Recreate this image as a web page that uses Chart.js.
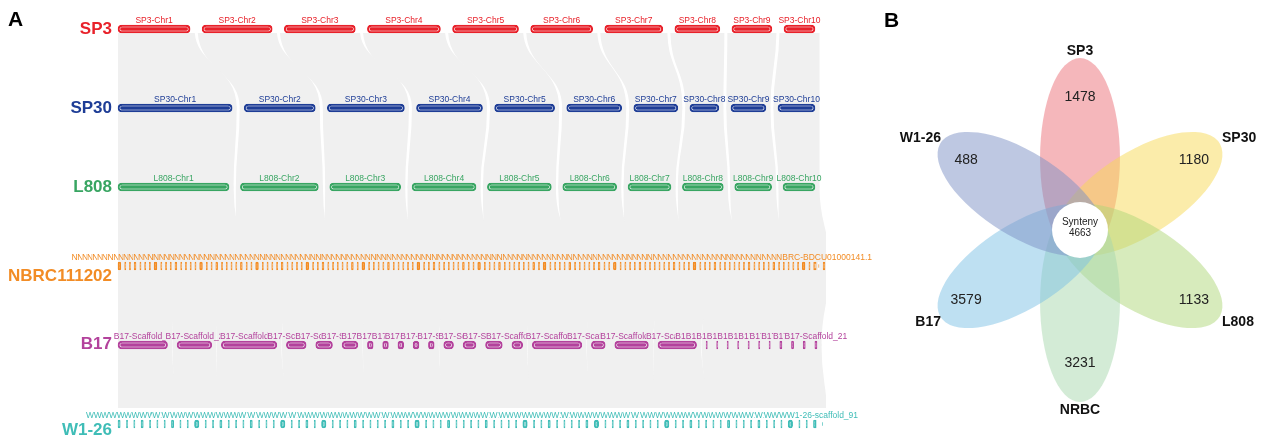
<!DOCTYPE html>
<html><head><meta charset="utf-8">
<script src="https://cdn.jsdelivr.net/npm/chart.js@4.4.1/dist/chart.umd.min.js"></script>
<style>
html,body{margin:0;padding:0;background:#fff;width:1263px;height:441px;overflow:hidden}
#a{position:absolute;left:0;top:0}
#b{position:absolute;left:880px;top:0}
</style></head><body>
<canvas id="a" width="890" height="441"></canvas>
<canvas id="b" width="383" height="441"></canvas>
<script>
// ---------------- DATA (panel A) ----------------
const genomes = ['SP3','SP30','L808','NBRC111202','B17','W1-26'];
// chromosome / scaffold lengths (Mb)
const sp3Len  = [7.2,7.0,7.1,7.3,6.6,6.2,5.8,4.5,4.0,3.1];
const sp30Len = [11.4,7.1,7.7,6.6,6.0,5.5,4.4,2.9,3.5,3.7];
const l808Len = [11.1,7.8,7.1,6.4,6.4,5.4,4.3,4.1,3.7,3.2];
const nbrcLen = [
 0.3,0.1,0.1,0.2,0.1,0.1,0.1,0.3,0.1,0.1,0.1,0.2,0.1,0.1,0.1,0.1,0.3,0.1,0.1,0.2,
 0.1,0.1,0.1,0.1,0.2,0.1,0.1,0.3,0.1,0.1,0.1,0.1,0.2,0.1,0.1,0.1,0.1,0.3,0.1,0.1,
 0.2,0.1,0.1,0.1,0.1,0.1,0.2,0.1,0.3,0.1,0.1,0.1,0.1,0.2,0.1,0.1,0.1,0.1,0.1,0.3,
 0.1,0.1,0.2,0.1,0.1,0.1,0.1,0.1,0.2,0.1,0.1,0.3,0.1,0.1,0.1,0.2,0.1,0.1,0.1,0.1,
 0.1,0.1,0.2,0.1,0.3,0.1,0.1,0.1,0.1,0.2,0.1,0.1,0.1,0.1,0.1,0.2,0.1,0.1,0.3,0.1,
 0.1,0.1,0.1,0.2,0.1,0.1,0.1,0.1,0.1,0.1,0.2,0.1,0.1,0.1,0.3,0.1,0.1,0.1,0.2,0.1,
 0.1,0.1,0.1,0.1,0.1,0.2,0.1,0.1,0.1,0.1,0.2,0.1,0.1,0.1,0.1,0.1,0.3,0.1,0.1,0.1,0.2];
const b17Len  = [5.0,3.5,5.6,2.0,1.7,1.6,0.58,0.58,0.58,0.58,0.58,1.0,1.3,1.7,1.1,5.0,1.4,3.4,3.9,
 0.1,0.1,0.1,0.1,0.1,0.1,0.12,0.22,0.22,0.22,0.22];
const b17Ids  = [1,2,3,4,5,6,7,8,9,10,11,12,13,14,15,16,17,18,19,20,22,23,24,25,26,27,28,29,30,21];
const w126Len = [
 0.2,0.1,0.1,0.2,0.1,0.1,0.1,0.2,0.1,0.1,0.4,0.1,0.1,0.2,0.1,0.1,0.1,0.2,0.1,0.1,
 0.1,0.4,0.1,0.1,0.2,0.1,0.4,0.1,0.1,0.1,0.2,0.1,0.1,0.1,0.1,0.2,0.1,0.1,0.4,0.1,
 0.1,0.1,0.2,0.1,0.1,0.1,0.1,0.2,0.1,0.1,0.1,0.1,0.4,0.1,0.1,0.2,0.1,0.1,0.1,0.1,
 0.2,0.4,0.1,0.1,0.1,0.2,0.1,0.1,0.1,0.1,0.4,0.1,0.1,0.2,0.1,0.1,0.1,0.1,0.2,0.1,
 0.1,0.1,0.2,0.1,0.1,0.1,0.4,0.1,0.1,0.2,0.1];
// syntenic blocks between neighbouring genomes: [upperFrom, upperTo, lowerFrom, lowerTo]
const linksSP3_SP30 = [[1,1,1,1],[2,2,2,2],[3,3,3,3],[4,4,4,4],[5,5,5,5],[6,6,6,6],[7,7,7,7],[8,8,8,8],[9,9,9,9],[10,10,10,10]];
const linksSP30_L808 = [[1,1,1,1],[2,2,2,2],[3,3,3,3],[4,4,4,4],[5,5,5,5],[6,6,6,6],[7,7,7,7],[8,8,8,8],[9,9,9,9],[10,10,10,10]];
const linksL808_NBRC = [[1,1,1,24],[2,2,25,41],[3,3,42,58],[4,4,59,73],[5,5,74,89],[6,6,90,101],[7,7,102,112],[8,8,113,123],[9,9,124,132],[10,10,133,141]];
const linksNBRC_B17 = [[1,11,1,1],[12,20,2,2],[21,34,3,3],[35,49,4,6],[50,65,7,11],[66,82,12,15],[83,94,16,16],[95,108,17,18],[109,118,19,19],[119,141,20,30]];
const linksB17_W126 = [[1,1,1,8],[2,2,9,13],[3,3,14,22],[4,6,23,32],[7,11,33,42],[12,15,43,53],[16,16,54,61],[17,18,62,69],[19,19,70,76],[20,30,77,91]];

// ---------------- DATA (panel B) ----------------
const petalNames  = ['SP3','SP30','L808','NRBC','B17','W1-26'];
const petalCounts = [1478,1180,1133,3231,3579,488];
const coreName = 'Synteny';
const coreCount = 4663;

// ---------------- STYLE / LAYOUT ----------------
const FONT = '"Liberation Sans", Arial, Helvetica, sans-serif';
const rows = [
  {len:sp3Len,  names:sp3Len.map((_,i)=>'SP3-Chr'+(i+1)),  color:'#e8212a', gapPx:12,  spanPx:697, labelDy:0},
  {len:sp30Len, names:sp30Len.map((_,i)=>'SP30-Chr'+(i+1)),color:'#1e3d96', gapPx:12,  spanPx:697, labelDy:0},
  {len:l808Len, names:l808Len.map((_,i)=>'L808-Chr'+(i+1)),color:'#38a562', gapPx:11.3,spanPx:697, labelDy:0},
  {len:nbrcLen, names:nbrcLen.map((_,i)=>'NBRC-BDCU01000'+String(i+1).padStart(3,'0')+'.1'), color:'#f28c25', gapPx:3.8, spanPx:707, labelDy:10},
  {len:b17Len,  names:b17Ids.map(n=>'B17-Scaffold_'+n),   color:'#b3429c', gapPx:9.5, spanPx:699, labelDy:-1},
  {len:w126Len, names:w126Len.map((_,i)=>'W1-26-scaffold_'+(i+1)), color:'#3fbdb7', gapPx:6.2, spanPx:705, labelDy:6}
];
const BASE_SPAN = 697;
rows.forEach(r => {
  const n = r.len.length;
  const total = r.len.reduce((a,b)=>a+b,0);
  const gap = r.gapPx / BASE_SPAN;
  const span = r.spanPx / BASE_SPAN;
  const unit = (span - gap*(n-1)) / total;
  let pos = 0;
  r.seg = r.len.map(L => { const s = pos, e = pos + L*unit; pos = e + gap; return [s,e]; });
});
const linkSets = [linksSP3_SP30, linksSP30_L808, linksL808_NBRC, linksNBRC_B17, linksB17_W126];

const maxN = Math.max(...rows.map(r=>r.len.length));
const datasets = [];
for (let k=0;k<maxN;k++){
  datasets.push({label:'core'+k, data: rows.map(r=>r.seg[k] ? r.seg[k].slice() : null),
    backgroundColor: rows.map(r=>r.color), borderColor:'#ffffff', borderWidth:2.6, borderRadius:4,
    borderSkipped:false, barThickness:8, grouped:false, order:2, clip:false});
  datasets.push({label:'outline'+k, data: rows.map(r=>r.seg[k] ? r.seg[k].slice() : null),
    backgroundColor:'rgba(0,0,0,0)', borderColor: rows.map(r=>r.color), borderWidth:1.3, borderRadius:4,
    borderSkipped:false, barThickness:8, grouped:false, order:1, clip:false, minBarLength:1.2});
}

const synPlugin = {
  id:'syn',
  beforeDatasetsDraw(chart){
    const {ctx, scales:{x,y}} = chart;
    const left = x.getPixelForValue(0);
    const right = x.getPixelForValue(rows[3].spanPx/BASE_SPAN) + 1;
    const top = y.getPixelForValue(0) + 4, bottom = y.getPixelForValue(5) - 16;
    ctx.save();
    ctx.beginPath(); ctx.rect(left, top, right-left, bottom-top); ctx.clip();
    ctx.fillStyle = '#f0f0f0'; ctx.strokeStyle = '#f0f0f0';
    ctx.lineWidth = 9; ctx.lineJoin = 'round';
    linkSets.forEach((links,p)=>{
      const up = rows[p], lo = rows[p+1];
      const ya = y.getPixelForValue(p), yb = y.getPixelForValue(p+1);
      const ym = (ya+yb)/2;
      links.forEach(([u0,u1,l0,l1])=>{
        const a0 = x.getPixelForValue(up.seg[u0-1][0]), a1 = x.getPixelForValue(up.seg[u1-1][1]);
        const b0 = x.getPixelForValue(lo.seg[l0-1][0]), b1 = x.getPixelForValue(lo.seg[l1-1][1]);
        ctx.beginPath();
        ctx.moveTo(a0,ya); ctx.lineTo(a1,ya);
        ctx.bezierCurveTo(a1,ym,b1,ym,b1,yb);
        ctx.lineTo(b0,yb);
        ctx.bezierCurveTo(b0,ym,a0,ym,a0,ya);
        ctx.closePath(); ctx.fill(); ctx.stroke();
      });
    });
    ctx.restore();
  },
  afterDatasetsDraw(chart){
    const {ctx, scales:{x,y}} = chart;
    ctx.save();
    // chromosome labels
    ctx.font = '8.5px ' + FONT;
    ctx.textAlign = 'center'; ctx.textBaseline = 'alphabetic';
    rows.forEach((r,ri)=>{
      ctx.fillStyle = r.color;
      const yp = y.getPixelForValue(ri) - 6;
      const centers = r.seg.map(s => (x.getPixelForValue(s[0]) + x.getPixelForValue(s[1]))/2);
      const widths = r.names.map(n => ctx.measureText(n).width);
      r.names.forEach((n,i)=>{
        ctx.save();
        if (i < r.names.length-1){
          const rgt = centers[i+1] - widths[i+1]/2;
          ctx.beginPath(); ctx.rect(0, yp-20, rgt, 30); ctx.clip();
        }
        ctx.fillText(n, centers[i], yp);
        ctx.restore();
      });
    });
    // genome labels
    ctx.font = 'bold 17px ' + FONT;
    ctx.textAlign = 'right'; ctx.textBaseline = 'middle';
    rows.forEach((r,ri)=>{
      ctx.fillStyle = r.color;
      ctx.fillText(genomes[ri], 112, y.getPixelForValue(ri) + r.labelDy);
    });
    // panel letter
    ctx.fillStyle = '#000'; ctx.font = 'bold 21px ' + FONT; ctx.textAlign = 'left';
    ctx.fillText('A', 8, 20);
    ctx.restore();
  }
};

new Chart(document.getElementById('a'), {
  type:'bar',
  data:{labels: genomes, datasets},
  options:{
    indexAxis:'y', responsive:false, animation:false, devicePixelRatio:1,
    layout:{padding:{left:118, right:75, top:29, bottom:17}},
    scales:{
      x:{type:'linear', min:0, max:1, display:false},
      y:{type:'category', offset:false, display:false}
    },
    plugins:{legend:{display:false}, tooltip:{enabled:false}}
  },
  plugins:[synPlugin]
});

// ---------------- PANEL B ----------------
const petalFill = ['rgba(235,111,119,0.5)','rgba(247,217,85,0.5)','rgba(175,215,121,0.5)',
                   'rgba(167,215,173,0.5)','rgba(125,193,229,0.5)','rgba(125,145,197,0.5)'];
const PETAL_D = 72, PETAL_A = 100, PETAL_B = 42.5;
const angle = i => i*Math.PI/3;
const flowerPlugin = {
  id:'flower',
  afterDatasetsDraw(chart){
    const {ctx, scales:{x,y}} = chart;
    const sx = x.getPixelForValue(1) - x.getPixelForValue(0);
    const sy = y.getPixelForValue(0) - y.getPixelForValue(1);
    const cx = x.getPixelForValue(0), cy = y.getPixelForValue(0);
    const meta = chart.getDatasetMeta(0);
    ctx.save();
    petalNames.forEach((n,i)=>{
      const el = meta.data[i];
      ctx.save();
      ctx.translate(el.x, el.y); ctx.scale(sx, sy); ctx.rotate(angle(i));
      ctx.beginPath(); ctx.ellipse(0,0,PETAL_B,PETAL_A,0,0,Math.PI*2);
      ctx.fillStyle = petalFill[i]; ctx.fill();
      ctx.restore();
    });
    // centre
    ctx.beginPath(); ctx.arc(cx, cy, 28, 0, Math.PI*2); ctx.fillStyle = '#fff'; ctx.fill();
    ctx.fillStyle = '#222'; ctx.textAlign='center'; ctx.textBaseline='middle';
    ctx.font = '10px ' + FONT;
    ctx.fillText(coreName, cx, cy-8);
    ctx.fillText(String(coreCount), cx, cy+3);
    // counts
    ctx.font = '14px ' + FONT;
    petalCounts.forEach((c,i)=>{
      const t = angle(i), r = 133 + 8*Math.abs(Math.sin(t));
      ctx.fillText(String(c), x.getPixelForValue(r*Math.sin(t)), y.getPixelForValue(r*Math.cos(t)));
    });
    // names
    ctx.font = 'bold 14px ' + FONT; ctx.fillStyle = '#111';
    petalNames.forEach((n,i)=>{
      const t = angle(i), r = PETAL_D + PETAL_A;
      const px = x.getPixelForValue(r*Math.sin(t)), py = y.getPixelForValue(r*Math.cos(t));
      const s = Math.sin(t), c = Math.cos(t);
      if (Math.abs(s) < 0.1){ ctx.textAlign='center'; ctx.fillText(n, px, py + (c>0 ? -7 : 8)); }
      else { ctx.textAlign = s>0 ? 'left' : 'right'; ctx.fillText(n, px + (s>0 ? 2 : 1), py + (c>0 ? -6 : 6)); }
    });
    ctx.font = 'bold 21px ' + FONT; ctx.fillStyle='#000'; ctx.textAlign='left';
    ctx.fillText('B', 4, 21);
    ctx.restore();
  }
};
new Chart(document.getElementById('b'), {
  type:'scatter',
  data:{datasets:[{data: petalNames.map((_,i)=>({x:PETAL_D*Math.sin(angle(i)), y:PETAL_D*Math.cos(angle(i))})), pointRadius:0}]},
  options:{
    responsive:false, animation:false, devicePixelRatio:1,
    layout:{padding:0},
    scales:{x:{type:'linear', min:-200/0.94, max:183/0.94, display:false}, y:{type:'linear', min:-211, max:230, display:false}},
    plugins:{legend:{display:false}, tooltip:{enabled:false}}
  },
  plugins:[flowerPlugin]
});
</script>
</body></html>
